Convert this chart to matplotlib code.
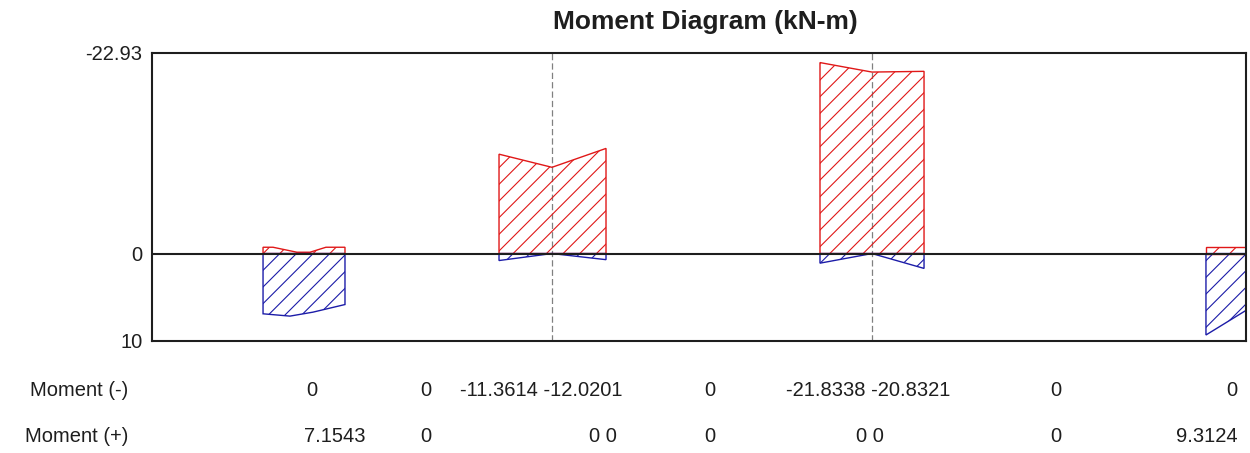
import matplotlib.pyplot as plt

plt.rcParams['font.family'] = ['Liberation Sans', 'DejaVu Sans']
plt.rcParams['hatch.linewidth'] = 0.8

# beam stations (m) and moments (kN-m), negative moments drawn upward
neg1_x = [1.015, 1.106, 1.325, 1.444, 1.590, 1.764]
neg1 = [-0.72, -0.72, -0.15, -0.15, -0.72, -0.72]
pos1_x = [1.015, 1.261, 1.472, 1.764]
pos1 = [6.89, 7.1543, 6.70, 5.83]

span2_x = [3.172, 3.656, 4.150]
neg2 = [-11.3614, -9.86, -12.0201]
pos2 = [0.8, 0.0, 0.7]

span3_x = [6.106, 6.581, 7.057]
neg3 = [-21.8338, -20.75, -20.8321]
pos3 = [1.1, 0.0, 1.7]

span4_x = [9.634, 10.0]
neg4 = [-0.72, -0.72]
pos4 = [9.3124, 6.5]

supports_x = [3.656, 6.581]

y_ticks = [-22.93, 0, 10]
y_labels = ['-22.93', '0', '10']

row_names = ['Moment (-)', 'Moment (+)']
row_neg = ['0', '0', '-11.3614 -12.0201', '0', '-21.8338 -20.8321', '0', '0']
row_pos = ['7.1543', '0', '0 0', '0', '0 0', '0', '9.3124']

# pixel centres of the table cells
neg_cols_px = [312, 426, 541, 710, 868, 1056, 1232]
pos_cols_px = [335, 426, 603, 710, 870, 1056, 1207]

W, H = 1250, 453
red = '#e01818'
blue = '#1c1ca8'
txt = '#1e1e1e'

fig = plt.figure(figsize=(W / 100, H / 100), dpi=100)
ax = fig.add_axes([152 / W, 1 - 341 / H, (1246 - 152) / W, (341 - 53) / H])


def block(xs, ys, color):
    px = [xs[0]] + list(xs) + [xs[-1]]
    py = [0] + list(ys) + [0]
    ax.fill(px, py, facecolor='none', edgecolor=color, hatch='//', linewidth=1.0)


block(neg1_x, neg1, red)
block(pos1_x, pos1, blue)
block(span2_x, neg2, red)
block(span2_x, pos2, blue)
block(span3_x, neg3, red)
block(span3_x, pos3, blue)
block(span4_x, neg4, red)
block(span4_x, pos4, blue)

for sx in supports_x:
    ax.axvline(sx, color='#808080', lw=0.9, dashes=(5, 2.5), zorder=0)

ax.axhline(0, color=txt, lw=1.5)

ax.set_xlim(0, 10)
ax.set_ylim(10, -22.93)
ax.set_xticks([])
ax.set_yticks(y_ticks)
ax.set_yticklabels(y_labels)
ax.tick_params(axis='y', length=0, pad=7, labelsize=14.5, labelcolor=txt)
for sp in ax.spines.values():
    sp.set_linewidth(1.5)
    sp.set_color(txt)

fig.text(705 / W, 1 - 22.5 / H, 'Moment Diagram (kN-m)', ha='center', va='center',
         fontsize=19, fontweight='bold', color=txt)

row_y = [1 - 390 / H, 1 - 436 / H]
for name, yy in zip(row_names, row_y):
    fig.text(128 / W, yy, name, ha='right', va='center', fontsize=14.5, color=txt)
for s, xp in zip(row_neg, neg_cols_px):
    fig.text(xp / W, row_y[0], s, ha='center', va='center', fontsize=14.5, color=txt)
for s, xp in zip(row_pos, pos_cols_px):
    fig.text(xp / W, row_y[1], s, ha='center', va='center', fontsize=14.5, color=txt)

fig.savefig('out.png', dpi=100)
